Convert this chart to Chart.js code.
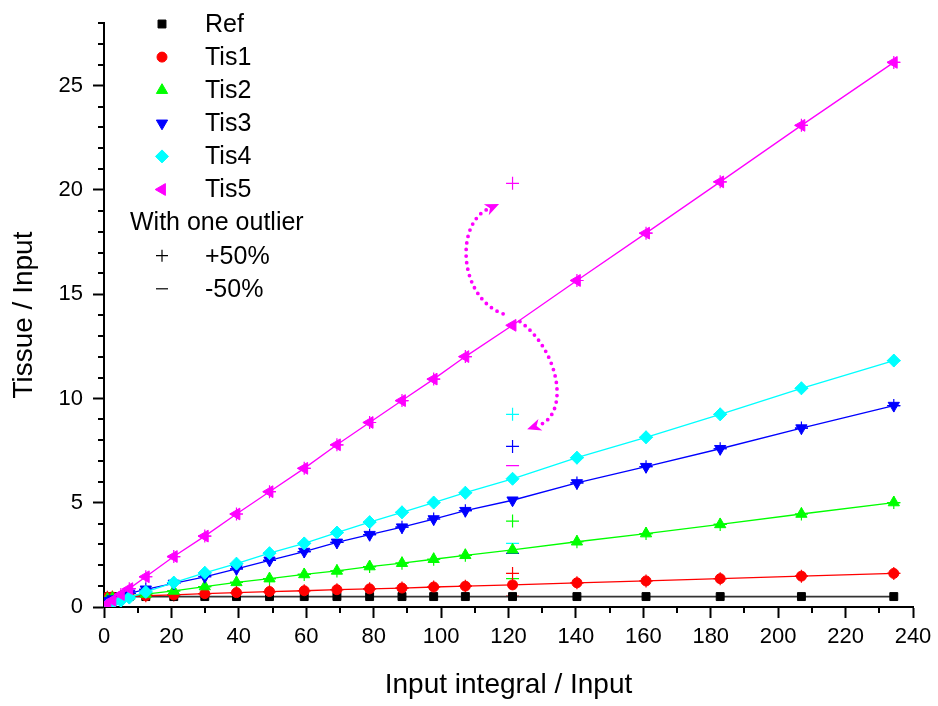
<!DOCTYPE html>
<html>
<head>
<meta charset="utf-8">
<title>Tissue / Input</title>
<script src="https://cdn.jsdelivr.net/npm/chart.js@4.4.1/dist/chart.umd.min.js"></script>
<style>
  html, body { margin: 0; padding: 0; background: #fff; }
  #wrap { width: 938px; height: 706px; }
</style>
</head>
<body>
<div id="wrap"><canvas id="plot"></canvas></div>
<script>
// x: input integral / input for each frame
const inputIntegral = [1, 2.5, 5, 7.5, 12.4, 20.7, 29.9, 39.3, 49.1, 59.4, 69.1, 78.8, 88.4, 97.8, 107.2, 121.2, 140.3, 160.8, 182.8, 206.9, 234.3];

// y: tissue / input
const ref  = [0.5, 0.5, 0.5, 0.5, 0.5, 0.5, 0.5, 0.5, 0.5, 0.5, 0.5, 0.5, 0.5, 0.5, 0.5, 0.5, 0.5, 0.5, 0.5, 0.5, 0.5];
const tis1 = [0.47, 0.48, 0.5, 0.51, 0.54, 0.58, 0.64, 0.69, 0.74, 0.78, 0.83, 0.87, 0.91, 0.96, 1.0, 1.06, 1.16, 1.25, 1.36, 1.48, 1.61];
const tis2 = [0.38, 0.43, 0.48, 0.53, 0.62, 0.77, 0.98, 1.18, 1.36, 1.56, 1.73, 1.94, 2.1, 2.29, 2.48, 2.74, 3.13, 3.52, 3.96, 4.46, 5.01];
const tis3 = [0.3, 0.38, 0.5, 0.65, 0.85, 1.13, 1.45, 1.83, 2.24, 2.66, 3.1, 3.47, 3.83, 4.22, 4.62, 5.12, 5.95, 6.73, 7.59, 8.58, 9.66];
const tis4 = [0.08, 0.18, 0.3, 0.45, 0.72, 1.17, 1.64, 2.08, 2.58, 3.05, 3.57, 4.07, 4.54, 5.01, 5.48, 6.15, 7.16, 8.14, 9.24, 10.49, 11.82];
const tis5 = [0.15, 0.32, 0.6, 0.88, 1.45, 2.42, 3.4, 4.46, 5.53, 6.65, 7.78, 8.85, 9.9, 10.93, 12.01, 13.51, 15.66, 17.93, 20.39, 23.1, 26.12];

// the single disturbed frame, Tis1..Tis5
const outlierX = 121.2;
const outlierPlus  = [1.61, 4.12, 7.70, 9.24, 20.32];
const outlierMinus = [0.52, 1.36, 2.57, 3.05, 6.78];

// axis ticks
const xTicks = { min: 0, max: 240, step: 20, minor: 10 };
const yTicks = { min: 0, max: 28, step: 5, minor: 1 };

// curved arrows in data units: start, control 1, control 2, arrow base
const outlierArrows = [
  [[118.4, 14.06], [105.1, 14.86], [104.2, 18.38], [113.96, 19.09]],
  [[123.4, 13.69], [135.3, 12.28], [138.2, 9.23], [128.9, 8.71]]
];

const FONT = 'Liberation Sans, Arial, sans-serif';

const styles = [
  { label: 'Ref',  color: '#000000', line: '#333333', pointStyle: 'rect',     radius: 5.6, rotation: 0 },
  { label: 'Tis1', color: '#ff0000', line: '#ff0000', pointStyle: 'circle',   radius: 5,   rotation: 0 },
  { label: 'Tis2', color: '#00ff00', line: '#00ff00', pointStyle: 'triangle', radius: 6.5, rotation: 0 },
  { label: 'Tis3', color: '#0000ff', line: '#0000ff', pointStyle: 'triangle', radius: 6.5, rotation: 180 },
  { label: 'Tis4', color: '#00ffff', line: '#00ffff', pointStyle: 'rectRot',  radius: 6.5, rotation: 0 },
  { label: 'Tis5', color: '#ff00ff', line: '#ff00ff', pointStyle: 'triangle', radius: 6.8, rotation: -90 }
];
const allSeries = [ref, tis1, tis2, tis3, tis4, tis5];
const outlierIndex = inputIntegral.indexOf(outlierX);

const toPoints = ys => inputIntegral.map((x, i) => ({ x: x, y: ys[i] }));
const withOutlier = (ys, v) => ys.map((y, i) => (i === outlierIndex ? v : y));

const datasets = [];
allSeries.forEach((ys, k) => {
  const s = styles[k];
  datasets.push({
    label: s.label,
    data: toPoints(ys),
    showLine: true,
    borderColor: s.line,
    backgroundColor: s.color,
    borderWidth: k === 0 ? 1.6 : 1.3,
    pointStyle: s.pointStyle,
    pointRotation: s.rotation,
    pointRadius: s.radius,
    pointBackgroundColor: s.color,
    pointBorderColor: s.color,
    pointBorderWidth: 1,
    // later series on top, Ref at the bottom
    order: allSeries.length - k
  });
});
// +50% / -50% copies of Tis1..Tis5, drawn underneath
for (let k = 1; k < allSeries.length; k++) {
  const s = styles[k];
  [['+50%', 'cross', outlierPlus], ['-50%', 'line', outlierMinus]].forEach(([name, ps, vals]) => {
    datasets.push({
      label: s.label + ' ' + name,
      data: toPoints(withOutlier(allSeries[k], vals[k - 1])),
      showLine: false,
      pointStyle: ps,
      pointRadius: 6.5,
      pointBorderColor: s.color,
      pointBackgroundColor: s.color,
      pointBorderWidth: 1.2,
      order: 10
    });
  });
}

function drawMarker(ctx, style, x, y) {
  ctx.save();
  ctx.fillStyle = style.color;
  ctx.strokeStyle = style.color;
  ctx.lineWidth = style.borderWidth || 1;
  Chart.helpers.drawPoint(ctx, {
    pointStyle: style.pointStyle,
    rotation: style.rotation || 0,
    radius: style.radius,
    borderWidth: style.borderWidth || 1
  }, x, y);
  ctx.restore();
}

// minor tick marks between the labelled ones
const minorTicks = {
  id: 'minorTicks',
  afterDraw(chart) {
    const { ctx, chartArea } = chart;
    const x = chart.scales.x, y = chart.scales.y;
    ctx.save();
    ctx.strokeStyle = '#000';
    ctx.lineWidth = 2;
    ctx.beginPath();
    for (let v = xTicks.min + xTicks.minor; v < xTicks.max; v += 2 * xTicks.minor) {
      const px = Math.round(x.getPixelForValue(v));
      ctx.moveTo(px, chartArea.bottom);
      ctx.lineTo(px, chartArea.bottom + 6);
    }
    for (let v = yTicks.min + yTicks.minor; v <= yTicks.max; v += yTicks.minor) {
      if (v % yTicks.step === 0) continue;
      const py = Math.round(y.getPixelForValue(v));
      ctx.moveTo(chartArea.left, py);
      ctx.lineTo(chartArea.left - 6, py);
    }
    ctx.stroke();
    ctx.restore();
  }
};

// dotted S-shaped arrows around the Tis5 outlier
const arrows = {
  id: 'arrows',
  afterDatasetsDraw(chart) {
    const { ctx } = chart;
    const x = chart.scales.x, y = chart.scales.y;
    ctx.save();
    ctx.strokeStyle = '#ff00ff';
    ctx.fillStyle = '#ff00ff';
    outlierArrows.forEach(curve => {
      const p = curve.map(([a, b]) => [x.getPixelForValue(a), y.getPixelForValue(b)]);
      ctx.setLineDash([0, 6.6]);
      ctx.lineCap = 'round';
      ctx.lineWidth = 3.8;
      ctx.beginPath();
      ctx.moveTo(p[0][0], p[0][1]);
      ctx.bezierCurveTo(p[1][0], p[1][1], p[2][0], p[2][1], p[3][0], p[3][1]);
      ctx.stroke();
      // head
      const dx = p[3][0] - p[2][0], dy = p[3][1] - p[2][1];
      const len = Math.hypot(dx, dy);
      const ux = dx / len, uy = dy / len;
      const bx = p[3][0], by = p[3][1];
      const tx = bx + ux * 12, ty = by + uy * 12;
      ctx.setLineDash([]);
      ctx.beginPath();
      ctx.moveTo(tx, ty);
      ctx.lineTo(bx - ux * 2 - uy * 6, by - uy * 2 + ux * 6);
      ctx.lineTo(bx + ux * 2, by + uy * 2);
      ctx.lineTo(bx - ux * 2 + uy * 6, by - uy * 2 - ux * 6);
      ctx.closePath();
      ctx.fill();
    });
    ctx.restore();
  }
};

// legend in the upper left corner of the plot
const legendBox = {
  id: 'legendBox',
  afterDraw(chart) {
    const { ctx } = chart;
    const rows = styles.map(s => ({ label: s.label, marker: s }));
    rows.push({ label: 'With one outlier' });
    rows.push({ label: '+50%', marker: { color: '#000', pointStyle: 'cross', radius: 6, borderWidth: 1.2 } });
    rows.push({ label: '-50%', marker: { color: '#000', pointStyle: 'line', radius: 6, borderWidth: 1.2 } });
    ctx.save();
    ctx.font = '25px ' + FONT;
    ctx.textBaseline = 'middle';
    ctx.fillStyle = '#000';
    rows.forEach((r, i) => {
      const ry = 24 + i * 33.1;
      if (r.marker) {
        drawMarker(ctx, r.marker, 162, ry);
        ctx.fillStyle = '#000';
        ctx.fillText(r.label, 205, ry + 1);
      } else {
        ctx.fillText(r.label, 130, ry + 1);
      }
    });
    ctx.restore();
  }
};

new Chart(document.getElementById('plot'), {
  type: 'scatter',
  data: { datasets: datasets },
  options: {
    responsive: true,
    maintainAspectRatio: false,
    animation: false,
    layout: { padding: { top: 10, right: 25, left: 0, bottom: 0 } },
    plugins: { legend: { display: false }, tooltip: { enabled: false } },
    scales: {
      x: {
        type: 'linear',
        min: xTicks.min,
        max: xTicks.max,
        border: { display: true, color: '#000', width: 2 },
        grid: { drawOnChartArea: false, drawTicks: true, tickLength: 11, tickColor: '#000', tickWidth: 2 },
        ticks: { stepSize: xTicks.step, autoSkip: false, maxRotation: 0, includeBounds: false, padding: 6, color: '#000', font: { family: FONT, size: 22 } },
        title: { display: true, text: 'Input integral / Input', color: '#000', font: { family: FONT, size: 28 }, padding: { top: 0, bottom: 4 } },
        afterFit(scale) { scale.height = 99; }
      },
      y: {
        type: 'linear',
        min: yTicks.min,
        max: yTicks.max,
        border: { display: true, color: '#000', width: 2 },
        grid: { drawOnChartArea: false, drawTicks: true, tickLength: 11, tickColor: '#000', tickWidth: 2 },
        ticks: { stepSize: yTicks.step, includeBounds: false, padding: 10, color: '#000', font: { family: FONT, size: 22 } },
        title: { display: true, text: 'Tissue / Input', color: '#000', font: { family: FONT, size: 28 }, padding: { top: 7, bottom: 0 } },
        afterFit(scale) { scale.width = 104; }
      }
    }
  },
  plugins: [minorTicks, arrows, legendBox]
});
</script>
</body>
</html>
